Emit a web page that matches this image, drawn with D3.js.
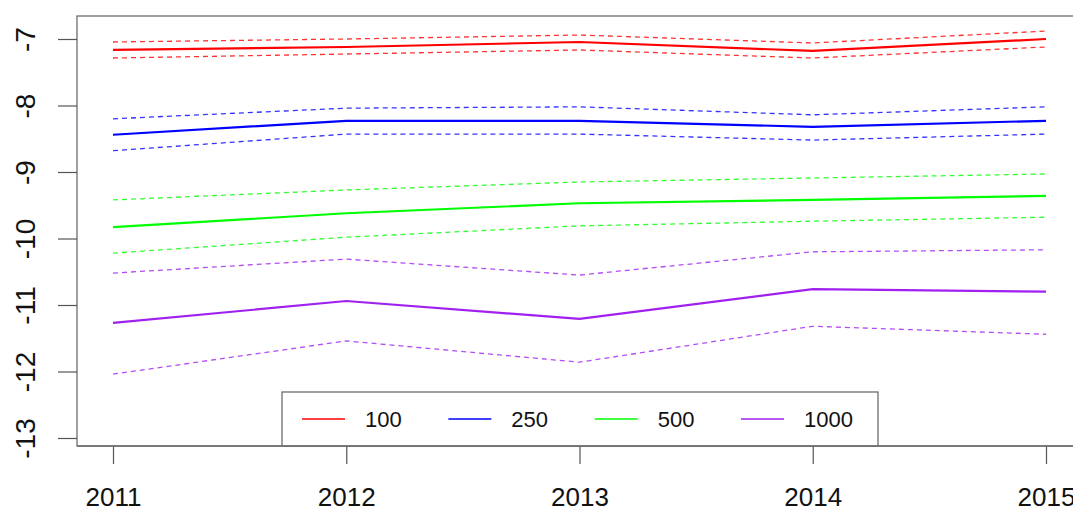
<!DOCTYPE html>
<html>
<head>
<meta charset="utf-8">
<script src="https://cdn.jsdelivr.net/npm/d3@7"></script>
<style>
html,body{margin:0;padding:0;background:#fff;}
svg{display:block;font-family:"Liberation Sans",Arial,sans-serif;}
</style>
</head>
<body>
<svg id="chart" width="1073" height="512"></svg>
<script>
const years = [2011, 2012, 2013, 2014, 2015];
const yTicks = [-7, -8, -9, -10, -11, -12, -13];
const seriesNames = ["100", "250", "500", "1000"];
const seriesColors = ["#ff0000", "#0000ff", "#00ff00", "#a020f0"];

const main100  = [-7.165, -7.12, -7.045, -7.18, -7.00];
const upper100 = [-7.045, -7.00, -6.94, -7.06, -6.88];
const lower100 = [-7.286, -7.226, -7.165, -7.286, -7.12];

const main250  = [-8.44, -8.23, -8.23, -8.32, -8.23];
const upper250 = [-8.20, -8.04, -8.02, -8.14, -8.02];
const lower250 = [-8.68, -8.43, -8.43, -8.52, -8.43];

const main500  = [-9.83, -9.62, -9.47, -9.42, -9.36];
const upper500 = [-9.42, -9.27, -9.15, -9.09, -9.03];
const lower500 = [-10.22, -9.98, -9.81, -9.74, -9.68];

const main1000  = [-11.27, -10.94, -11.21, -10.76, -10.80];
const upper1000 = [-10.52, -10.31, -10.55, -10.20, -10.17];
const lower1000 = [-12.04, -11.54, -11.86, -11.32, -11.44];

const mains = [main100, main250, main500, main1000];
const uppers = [upper100, upper250, upper500, upper1000];
const lowers = [lower100, lower250, lower500, lower1000];

const svg = d3.select("#chart");
const x = d3.scaleLinear().domain([2011, 2015]).range([113, 1046]);
const y = d3.scaleLinear().domain([-13, -7]).range([438, 39]);

const box = {left: 77, right: 1083, top: 16, bottom: 446};

// plot box
svg.append("rect")
  .attr("x", box.left).attr("y", box.top)
  .attr("width", box.right - box.left).attr("height", box.bottom - box.top)
  .attr("fill", "none").attr("stroke", "#6e6e6e").attr("stroke-width", 1.3);

const line = d3.line().x((d, i) => x(years[i])).y(d => y(d));

// series
mains.forEach((s, k) => {
  [uppers[k], lowers[k]].forEach(b => {
    svg.append("path").attr("d", line(b))
      .attr("fill", "none").attr("stroke", seriesColors[k])
      .attr("stroke-width", 1.3).attr("stroke-dasharray", "5,4")
      .attr("opacity", 0.8);
  });
  svg.append("path").attr("d", line(s))
    .attr("fill", "none").attr("stroke", seriesColors[k])
    .attr("stroke-width", 2.2);
});

// x axis
const xAxis = d3.axisBottom(x).tickValues(years).tickFormat(d3.format("d"))
  .tickSize(18).tickSizeOuter(0);
const gx = svg.append("g").attr("transform", `translate(0,${box.bottom})`).call(xAxis);
gx.select(".domain").remove();
gx.selectAll(".tick line").attr("stroke", "#555").attr("stroke-width", 1.2);
gx.selectAll(".tick text").attr("font-size", 26).attr("fill", "#111")
  .attr("y", 0).attr("dy", null)
  .attr("transform", "translate(0,60)");

// y axis
const yAxis = d3.axisLeft(y).tickValues(yTicks).tickFormat(d => String(d).replace("\u2212", "-"))
  .tickSize(19).tickSizeOuter(0);
const gy = svg.append("g").attr("transform", `translate(${box.left},0)`).call(yAxis);
gy.select(".domain").remove();
gy.selectAll(".tick line").attr("stroke", "#555").attr("stroke-width", 1.2);
gy.selectAll(".tick text").attr("font-size", 28).attr("fill", "#111")
  .attr("x", null).attr("dy", null)
  .attr("text-anchor", "middle")
  .attr("transform", "translate(-52,0) rotate(-90)")
  .attr("y", 0).attr("dy", "0.35em");

// legend
const lg = svg.append("g");
lg.append("rect").attr("x", 282).attr("y", 392).attr("width", 596).attr("height", 54)
  .attr("fill", "#fff").attr("stroke", "#6e6e6e").attr("stroke-width", 1.3);
const legX = d3.scalePoint().domain(seriesNames).range([302, 741]);
seriesNames.forEach((n, k) => {
  const lx = legX(n);
  lg.append("line").attr("x1", lx).attr("x2", lx + 43).attr("y1", 419).attr("y2", 419)
    .attr("stroke", seriesColors[k]).attr("stroke-width", 1.6);
  lg.append("text").attr("x", lx + 63).attr("y", 427).attr("font-size", 22)
    .attr("fill", "#111").text(n);
});
// redraw bottom box line over legend
svg.append("line").attr("x1", box.left).attr("x2", box.right).attr("y1", box.bottom).attr("y2", box.bottom)
  .attr("stroke", "#6e6e6e").attr("stroke-width", 1.3);
</script>
</body>
</html>
